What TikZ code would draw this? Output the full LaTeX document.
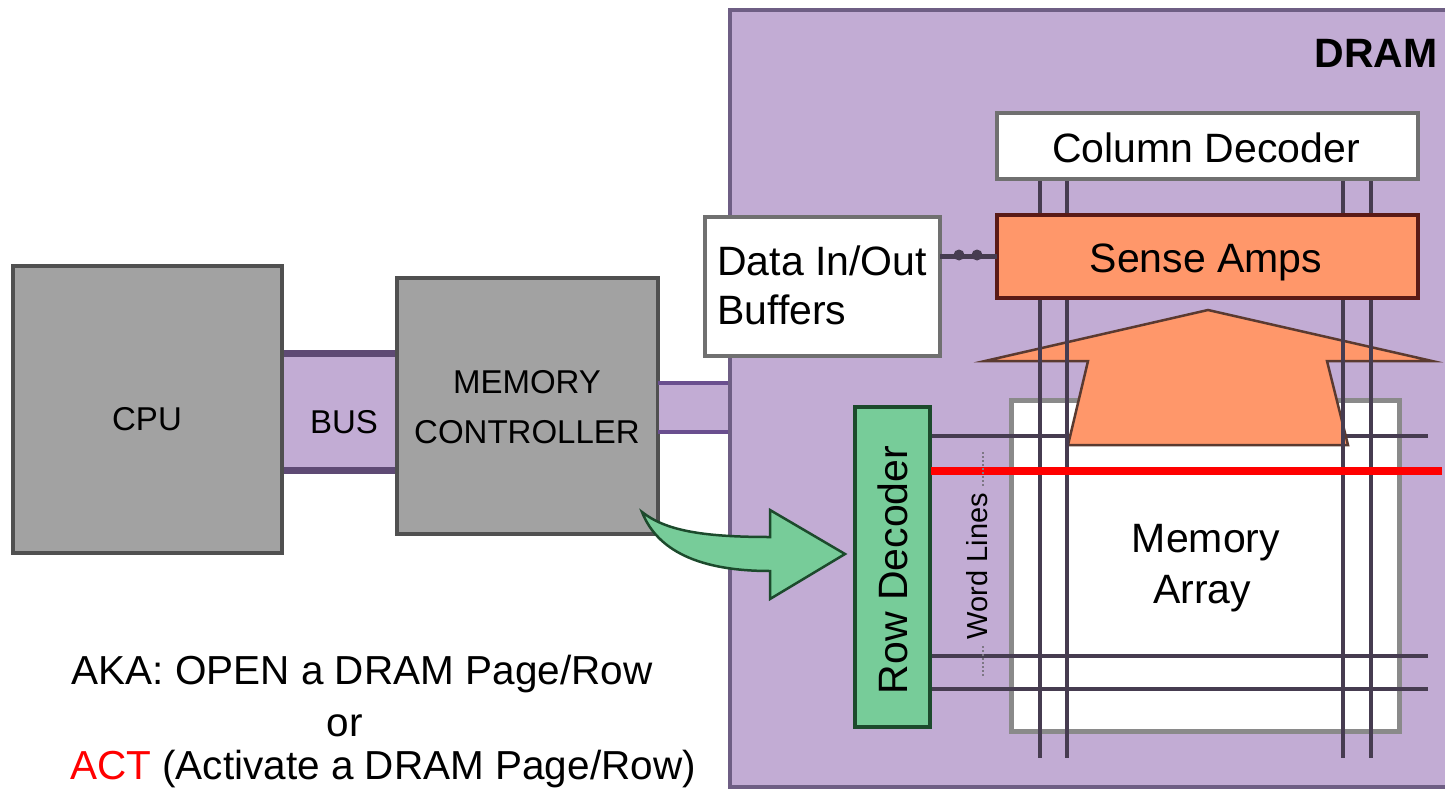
\documentclass[tikz,border=0pt]{standalone}
\usepackage{fontspec}
\setmainfont{Liberation Sans}
\definecolor{dramfill}{HTML}{C2ACD4}
\definecolor{dramline}{HTML}{6E5E84}
\definecolor{grayfill}{HTML}{A2A2A2}
\definecolor{grayline}{HTML}{505050}
\definecolor{buslinec}{HTML}{5E4A74}
\definecolor{linkline}{HTML}{6A4F8F}
\definecolor{salmon}{HTML}{FF976A}
\definecolor{salmonline}{HTML}{5A1A16}
\definecolor{arrowline}{HTML}{5A3A30}
\definecolor{greenfill}{HTML}{77CC99}
\definecolor{greenline}{HTML}{1C4A2C}
\definecolor{gridline}{HTML}{463C50}
\definecolor{boxgray}{HTML}{707070}
\definecolor{arraygray}{HTML}{8A8A8A}
\newcommand\FSbig{\fontsize{41}{48}\selectfont}
\newcommand\FSmid{\fontsize{33}{40}\selectfont}
\newcommand\FSsmall{\fontsize{29}{34}\selectfont}
\newcommand\FSbot{\fontsize{40.5}{48}\selectfont}
\tikzset{
  box/.style={draw, line width=4pt, inner sep=0pt, outer sep=0pt},
  graybox/.style={box, fill=grayfill, draw=grayline},
  whitebox/.style={box, fill=white, draw=boxgray},
  txt/.style={inner sep=0pt, anchor=base, font=\FSbig},
  midtxt/.style={inner sep=0pt, anchor=base, font=\FSmid},
  bottxt/.style={inner sep=0pt, anchor=base, font=\FSbot},
  gridln/.style={draw=gridline, line width=3.5pt},
}
\begin{document}
\begin{tikzpicture}[x=1pt,y=-1pt]
\useasboundingbox (0,0) rectangle (1445,789);
\clip (0,0) rectangle (1445,789);

% DRAM chip
\node[box, draw=dramline, fill=dramfill, minimum width=770pt, minimum height=777pt, anchor=north west] (dram) at (730,10) {};
\node[txt, font=\FSbig\bfseries] (dramlbl) at (1376,68) {DRAM};

% bus between CPU and memory controller
\node[fill=dramfill, inner sep=0pt, minimum width=115pt, minimum height=117pt] (bus) at (339,412) {};
\draw[line width=7pt, buslinec] (bus.north west) -- (bus.north east) (bus.south west) -- (bus.south east);

% CPU and memory controller
\node[graybox, minimum width=269pt, minimum height=287pt] (cpu) at (147.5,409.5) {};
\node[graybox, minimum width=261pt, minimum height=256pt] (mc) at (527.5,406) {};
\node[midtxt] (cpuT) at (147,430) {CPU};
\node[midtxt] (busT) at (344,433) {BUS};
\node[midtxt] (mcT1) at (527,393) {MEMORY};
\node[midtxt] (mcT2) at (527,443) {CONTROLLER};

% link memory controller -> DRAM
\node[fill=dramfill, inner sep=0pt, minimum width=70pt, minimum height=49pt] (link) at (694,407.5) {};
\draw[line width=4pt, linkline] (mc.east |- link.north) -- (dram.west |- link.north)
  (mc.east |- link.south) -- (dram.west |- link.south);
\draw[line width=4pt, dramline] (dram.north west) -- (dram.south west);

% data buffers
\node[whitebox, minimum width=235pt, minimum height=139pt] (buf) at (822.5,286.5) {};
\node[txt, anchor=base west] (bufT1) at (717,275) {Data In/Out};
\node[txt, anchor=base west] (bufT2) at (717,324) {Buffers};

% memory array
\node[box, fill=white, draw=arraygray, line width=5pt, minimum width=388pt, minimum height=331pt] (array) at (1205.5,565.5) {};
\draw[gridln] (931,436) -- (1428,436);
\draw[gridln] (931,656) -- (1428,656);
\draw[gridln] (931,689) -- (1428,689);

% big up arrow
\draw[fill=salmon, draw=arrowline, line width=2.5pt, line join=miter]
  (1068,445) -- (1088,361) -- (985,361) -- (1208,310) -- (1432,361) -- (1327,361) -- (1348,445) -- cycle;

% bit lines
\foreach \xx in {1040,1067,1343,1371} {
  \draw[gridln] (\xx,179) -- (\xx,758);
}

% column decoder and sense amps
\node[whitebox, minimum width=421pt, minimum height=66pt] (coldec) at (1207.5,146) {};
\node[txt] (coldecT) at (1206,162) {Column Decoder};
\node[box, fill=salmon, draw=salmonline, minimum width=421pt, minimum height=83pt] (sense) at (1207.5,256.5) {};
\node[txt] (senseT) at (1206,272) {Sense Amps};
\draw[line width=4.5pt, gridline] (buf.east |- sense.west) -- (sense.west);
\fill[gridline] (959,255) circle (5.5pt) (977,255) circle (5.5pt);

\node[txt] (arrT1) at (1206,552) {Memory};
\node[txt] (arrT2) at (1202,603) {Array};

% row decoder
\node[box, fill=greenfill, draw=greenline, minimum width=75pt, minimum height=320pt] (rowdec) at (892.5,567) {};
\node[font=\FSbig, rotate=90, inner sep=0pt] (rowdecT) at (893,570) {Row Decoder};

% activated word line
\draw[red, line width=8pt] (931,471) -- (1442,471);

% word lines label
\node[font=\FSsmall, rotate=90, inner sep=0pt] (wl) at (977,566) {Word Lines};
\draw[dotted, line width=2pt, gridline!70] (983,452) -- (983,486) (983,646) -- (983,676);

% green command arrow
\draw[fill=greenfill, draw=greenline, line width=2.5pt, line join=miter]
  (642,512) .. controls (665,530) and (700,537) .. (770,537) -- (770,510) -- (845,554)
  -- (770,599) -- (770,571) .. controls (690,571) and (655,545) .. (642,512) -- cycle;

% bottom text
\node[bottxt] (aka) at (362,684) {AKA: OPEN a DRAM Page/Row};
\node[bottxt] (orT) at (345,736) {or};
\node[bottxt] (act) at (383,779) {\textcolor{red}{ACT} (Activate a DRAM Page/Row)};
\end{tikzpicture}
\end{document}
